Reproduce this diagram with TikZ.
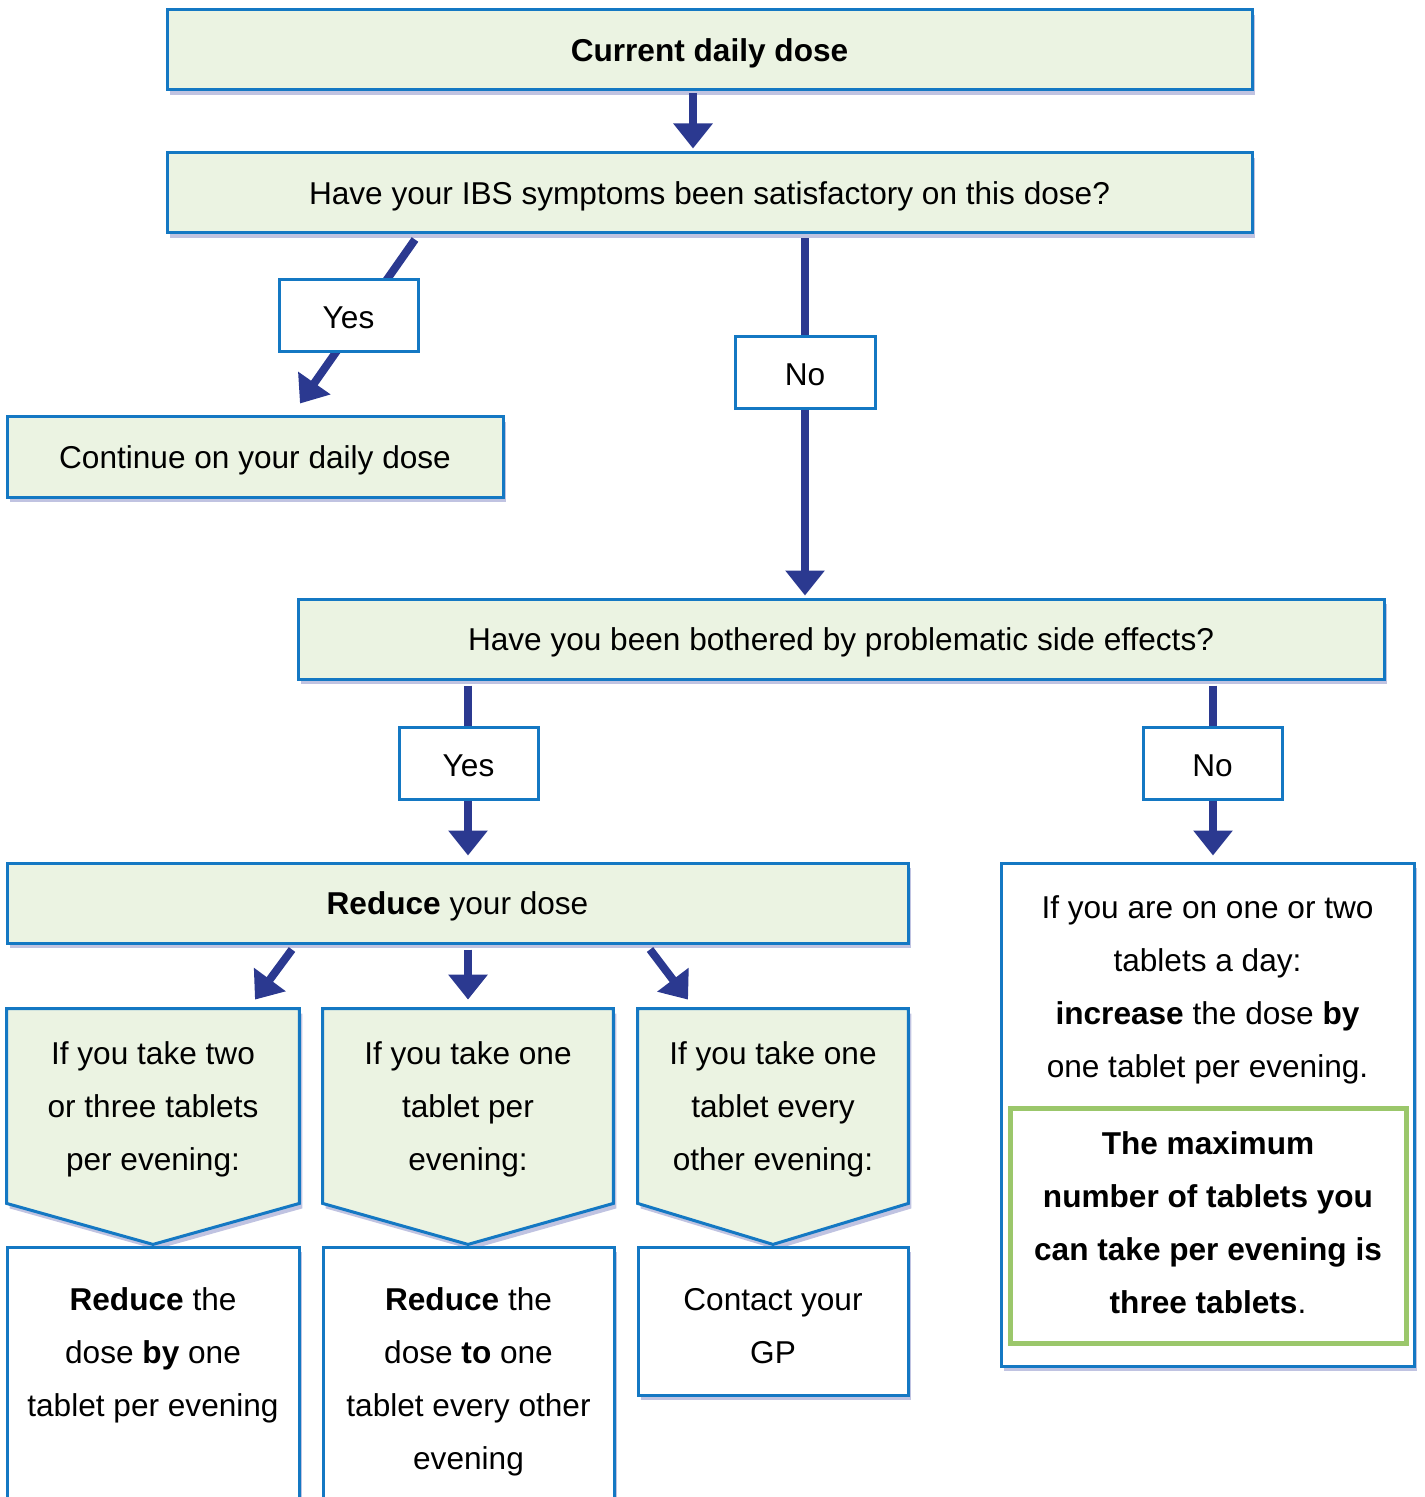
\documentclass[tikz,border=0pt]{standalone}
\usepackage{fontspec}
\setmainfont{Liberation Sans}
\usetikzlibrary{arrows.meta,shadows,calc,backgrounds}
\definecolor{boxfill}{RGB}{235,243,226}
\definecolor{boxline}{RGB}{20,120,195}
\definecolor{arrowblue}{RGB}{43,57,144}
\definecolor{maxgreen}{RGB}{155,199,107}
\definecolor{shade}{RGB}{165,170,212}

\begin{document}
\begin{tikzpicture}
  [x=0.5pt,y=-0.5pt,font=\fontsize{15.8}{26.5}\selectfont]
      \tikzstyle{shadow_style} = [drop shadow={shadow xshift=1.5pt, shadow yshift=-2.5pt, fill=shade, opacity=.7}]
      \tikzstyle{step_box} = [draw=boxline, line width=1.5pt, fill=boxfill, shadow_style, minimum height=40pt, inner sep=0pt, align=center, text depth=0pt]
      \tikzstyle{white_box} = [draw=boxline, line width=1.5pt, fill=white, shadow_style, inner sep=0pt, align=center]
      \tikzstyle{label_style} = [draw=boxline, line width=1.5pt, fill=white, minimum width=69.5pt, minimum height=36pt, inner sep=0pt, text height=13pt, text depth=0pt]
      \tikzstyle{pent_text} = [inner sep=0pt, minimum height=97pt, align=center, text depth=0pt]
      \tikzstyle{pent_style} = [draw=boxline, line width=1.5pt, fill=boxfill, shadow_style, line join=miter]
      \tikzstyle{arrow_style} = [draw=arrowblue, line width=4pt, -{Triangle[width=19pt,length=12.5pt]}]
  \useasboundingbox (0,0) rectangle (1424,1497);
  \node[step_box, minimum width=542.5pt] (cur) at (709.5, 50) {\textbf{Current daily dose}};
  \node[step_box, minimum width=542.5pt] (q1) at (709.5, 193) {Have your IBS symptoms been satisfactory on this dose?};
  \node[step_box, minimum width=248pt] (cont) at (255, 457) {Continue on your daily dose};
  \node[step_box, minimum width=543pt] (q2) at (841, 639) {Have you been bothered by problematic side effects?};
  \node[step_box, minimum width=450.5pt] (red) at (457.5, 903) {\textbf{Reduce} your dose};
  \node[pent_text, minimum width=146pt] (p1) at (153, 1106) {If you take two\\or three tablets\\per evening:};
  \node[pent_text, minimum width=145pt] (p2) at (468, 1106) {If you take one\\tablet per\\evening:};
  \node[pent_text, minimum width=135pt] (p3) at (773, 1106) {If you take one\\tablet every\\other evening:};
  \begin{scope}[on background layer]
    \foreach \p in {p1,p2,p3}
      \draw[pent_style] (\p.north west) -- (\p.north east) -- (\p.south east) -- ($(\p.south)+(0,41)$) -- (\p.south west) -- cycle;
  \end{scope}
  \node[white_box, minimum width=146pt, minimum height=132pt] (b1) at (153, 1379) {\textbf{Reduce} the\\dose \textbf{by} one\\tablet per evening\\\mbox{}};
  \node[white_box, minimum width=145.5pt, minimum height=132pt, text depth=0pt] (b2) at (468.5, 1379) {\textbf{Reduce} the\\dose \textbf{to} one\\tablet every other\\evening};
  \node[white_box, minimum width=135pt, minimum height=74pt] (b3) at (773, 1321) {\rule{0pt}{16.5pt}Contact your\\GP};
  \node[white_box, minimum width=206.5pt, minimum height=251.5pt] (rb) at (1207.5, 1114.5) {};
  \node[inner sep=0pt, align=center] (rbt) at (1207.5, 990) {If you are on one or two\\tablets a day:\\\textbf{increase} the dose \textbf{by}\\one tablet per evening.};
  \node[draw=maxgreen, line width=2.5pt, minimum width=198pt, minimum height=117.5pt, inner sep=0pt, align=center, text depth=3pt] (mx) at (1208, 1225.5) {\textbf{The maximum}\\\textbf{number of tablets you}\\\textbf{can take per evening is}\\\textbf{three tablets}.};
  \draw[arrow_style] ($(cur.south)+(-16.5,2)$) -- ($(q1.north)+(-16.5,-3)$);
  \draw[arrow_style] ($(q1.south)+(-294.5,5)$) -- ($(cont.north)+(45,-12)$);
  \draw[arrow_style] ($(q1.south)+(95.5,4)$) -- ($(q2.north)+(-36,-2)$);
  \draw[arrow_style] ($(q2.south)+(-373,5)$) -- ($(red.north)+(10.5,-6)$);
  \draw[arrow_style] ($(q2.south)+(372,5)$) -- ($(rb.north)+(5.5,-6)$);
  \draw[arrow_style] ($(red.south)+(-165.5,5)$) -- ($(p1.north)+(102,-9)$);
  \draw[arrow_style] ($(red.south)+(10.5,5)$) -- ($(p2.north)+(0,-9)$);
  \draw[arrow_style] ($(red.south)+(192.5,5)$) -- ($(p3.north)+(-85,-9)$);
  \node[label_style] (yes1) at (348.5, 316) {Yes};
  \node[label_style, minimum width=70pt] (no1) at (805, 373) {No};
  \node[label_style] (yes2) at (468.5, 763) {Yes};
  \node[label_style] (no2) at (1212.5, 763) {No};
\end{tikzpicture}
\end{document}
